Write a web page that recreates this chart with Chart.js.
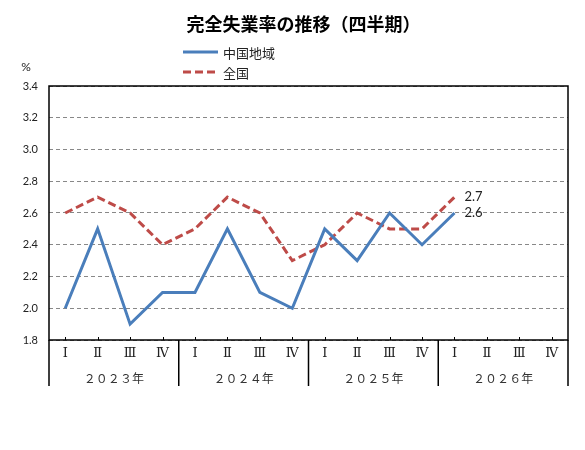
<!DOCTYPE html>
<html lang="ja">
<head>
    <meta charset="UTF-8">
    <title>完全失業率の推移（四半期）</title>
    <script src="https://cdn.jsdelivr.net/npm/chart.js"></script>
    <style>
        body {
            margin: 0;
            background: #fff;
        }
        .wrap {
            position: relative;
            width: 585px;
            height: 450px;
        }
        #title {
            position: absolute;
            left: 0;
            top: 11px;
            width: 585px;
            padding-left: 22px;
            box-sizing: border-box;
            text-align: center;
            line-height: 24px;
            font-family: 'Noto Sans CJK JP', sans-serif;
            font-size: 18px;
            font-weight: bold;
            color: #000;
        }
        #legend {
            position: absolute;
            left: 183px;
            top: 42px;
            font-family: 'Noto Sans CJK JP', sans-serif;
            font-size: 13px;
            color: #222;
        }
        #legend div {
            display: flex;
            align-items: center;
            height: 20px;
        }
        #legend svg {
            margin-right: 5px;
        }
    </style>
</head>
<body>

    <div class="wrap">
        <canvas id="rateChart" width="585" height="450"></canvas>
        <div id="title">完全失業率の推移（四半期）</div>
        <div id="legend"></div>
    </div>

    <script>
        // data
        const quarters = ['Ⅰ', 'Ⅱ', 'Ⅲ', 'Ⅳ', 'Ⅰ', 'Ⅱ', 'Ⅲ', 'Ⅳ', 'Ⅰ', 'Ⅱ', 'Ⅲ', 'Ⅳ', 'Ⅰ', 'Ⅱ', 'Ⅲ', 'Ⅳ'];
        const years = ['２０２３年', '２０２４年', '２０２５年', '２０２６年'];
        const chugoku = [2.0, 2.5, 1.9, 2.1, 2.1, 2.5, 2.1, 2.0, 2.5, 2.3, 2.6, 2.4, 2.6, null, null, null];
        const zenkoku = [2.6, 2.7, 2.6, 2.4, 2.5, 2.7, 2.6, 2.3, 2.4, 2.6, 2.5, 2.5, 2.7, null, null, null];
        const yMin = 1.8;
        const yMax = 3.4;
        const yStep = 0.2;

        // frame, little quarter ticks, year dividers, end labels and the % unit
        const framePlugin = {
            id: 'framePlugin',
            afterDraw(chart) {
                const { ctx, chartArea: a, scales } = chart;
                const x = scales.x, x2 = scales.x2;
                ctx.save();
                ctx.strokeStyle = '#000';
                ctx.lineWidth = 1.5;
                ctx.strokeRect(a.left, a.top, a.right - a.left, a.bottom - a.top);

                ctx.lineWidth = 1;
                ctx.beginPath();
                x.ticks.forEach((t, i) => {
                    const px = Math.round(x.getPixelForTick(i)) + 0.5;
                    ctx.moveTo(px, a.bottom);
                    ctx.lineTo(px, a.bottom - 3);
                });
                ctx.stroke();

                // dividers between the years
                const half = (x.getPixelForTick(1) - x.getPixelForTick(0)) / 2;
                ctx.lineWidth = 1.5;
                ctx.beginPath();
                for (let k = 0; k <= years.length; k++) {
                    const px = k === years.length ? a.right : x.getPixelForTick(k * 4) - half;
                    ctx.moveTo(px, a.bottom);
                    ctx.lineTo(px, x2.bottom);
                }
                ctx.stroke();

                // value at the last point of each series
                ctx.fillStyle = '#222';
                ctx.font = '13px Lato, "Liberation Sans", sans-serif';
                ctx.textBaseline = 'middle';
                ctx.textAlign = 'left';
                chart.data.datasets.forEach((ds, di) => {
                    let last = -1;
                    ds.data.forEach((v, i) => { if (v !== null) last = i; });
                    const pt = chart.getDatasetMeta(di).data[last];
                    ctx.fillText(ds.data[last].toFixed(1), pt.x + 10, pt.y);
                });

                ctx.font = '12px Lato, "Liberation Sans", sans-serif';
                ctx.textAlign = 'center';
                ctx.fillText('%', 26, 67);
                ctx.restore();
            }
        };

        const ctx = document.getElementById('rateChart').getContext('2d');

        let rateChart = new Chart(ctx, {
            type: 'line',
            data: {
                labels: quarters,
                datasets: [
                    {
                        label: '中国地域',
                        data: chugoku,
                        borderColor: '#4A7EBB',
                        borderWidth: 3,
                        pointRadius: 0,
                        tension: 0,
                        borderJoinStyle: 'miter'
                    },
                    {
                        label: '全国',
                        data: zenkoku,
                        borderColor: '#BE4B48',
                        borderWidth: 3,
                        borderDash: [8, 4],
                        pointRadius: 0,
                        tension: 0,
                        borderJoinStyle: 'miter'
                    }
                ]
            },
            options: {
                responsive: false,
                animation: false,
                layout: {
                    padding: { left: 0, right: 17, top: 86, bottom: 64 }
                },
                plugins: {
                    legend: { display: false },
                    tooltip: { enabled: false },
                    title: { display: false }
                },
                scales: {
                    x: {
                        type: 'category',
                        offset: true,
                        weight: 0,
                        grid: { display: false, drawTicks: false },
                        border: { display: false },
                        ticks: {
                            autoSkip: false,
                            maxRotation: 0,
                            padding: 6,
                            color: '#222',
                            font: { family: "'DejaVu Serif', 'Noto Sans CJK JP'", size: 13 }
                        },
                        afterFit: s => { s.height = 26; }
                    },
                    x2: {
                        type: 'category',
                        position: 'bottom',
                        labels: years,
                        offset: true,
                        weight: 1,
                        grid: { display: false, drawTicks: false },
                        border: { display: false },
                        ticks: {
                            autoSkip: false,
                            maxRotation: 0,
                            padding: 5,
                            color: '#333',
                            font: { family: "'Noto Sans CJK JP'", size: 12 }
                        },
                        afterFit: s => { s.height = 20; }
                    },
                    y: {
                        min: yMin,
                        max: yMax,
                        grid: { color: '#888', drawTicks: false },
                        border: { display: false, dash: [4, 3] },
                        ticks: {
                            stepSize: yStep,
                            padding: 11,
                            color: '#222',
                            font: { family: 'Lato, "Liberation Sans"', size: 11 },
                            callback: v => v.toFixed(1)
                        },
                        afterFit: s => { s.width = 49; }
                    }
                }
            },
            plugins: [framePlugin]
        });

        // legend built from the datasets
        const legend = document.getElementById('legend');
        rateChart.data.datasets.forEach(ds => {
            const row = document.createElement('div');
            const dash = ds.borderDash ? ds.borderDash.join(',') : 'none';
            row.innerHTML = `<svg width="35" height="6"><line x1="0" y1="3" x2="35" y2="3" stroke="${ds.borderColor}" stroke-width="3" stroke-dasharray="${dash}"/></svg><span>${ds.label}</span>`;
            legend.appendChild(row);
        });
    </script>

</body>
</html>
